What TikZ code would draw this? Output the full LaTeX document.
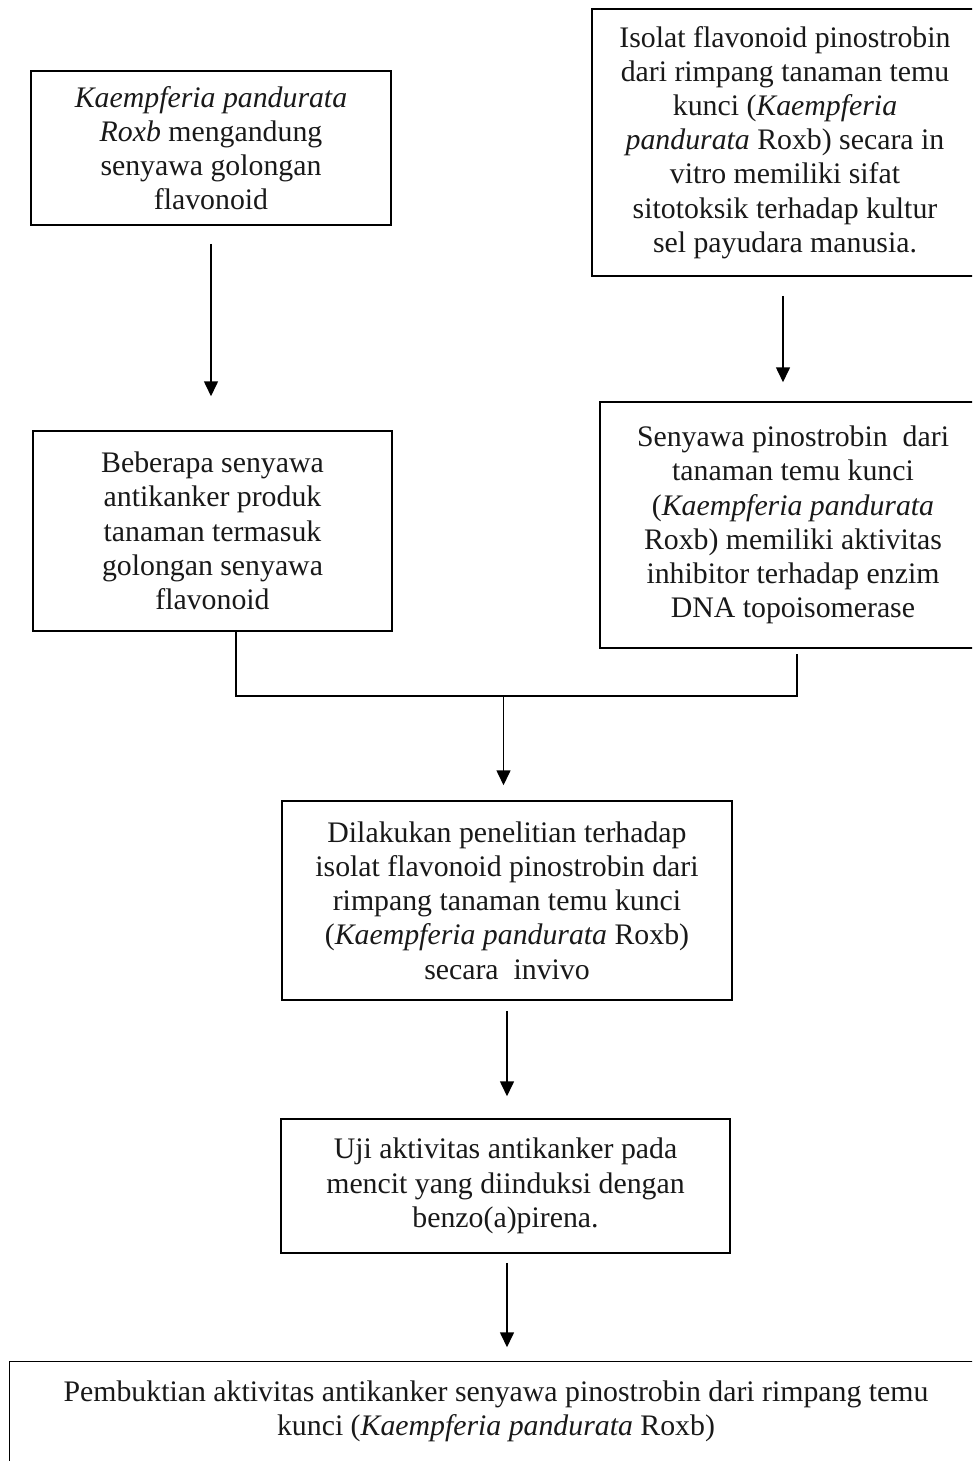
\documentclass[tikz,border=0pt]{standalone}
\usepackage{fontspec}
\setmainfont{Liberation Serif}
\usetikzlibrary{arrows.meta}
\begin{document}
\begin{tikzpicture}[x=1pt,y=-1pt,
  box/.style={draw=black, line width=1.5pt, rectangle, inner sep=0pt, align=center,
    text=black!90, font=\fontsize{29.8}{34.2}\selectfont},
  arr/.style={line width=1.6pt, -{Triangle[length=15pt,width=14pt]}},
  con/.style={line width=1.6pt}]
\useasboundingbox (0,0) rectangle (972,1461);
\clip (0,0) rectangle (972,1461);
\fill[white] (0,0) rectangle (972,1461);

\node[box, minimum width=360pt, minimum height=154pt] (A) at (211,148)
  {\textit{Kaempferia pandurata}\\ \textit{Roxb} mengandung\\ senyawa golongan\\ flavonoid};
\node[box, minimum width=386pt, minimum height=267pt] (B) at (785,142.5)
  {Isolat flavonoid pinostrobin\\ dari rimpang tanaman temu\\ kunci (\textit{Kaempferia}\\ \textit{pandurata} Roxb) secara in\\ vitro memiliki sifat\\ sitotoksik terhadap kultur\\ sel payudara manusia.};
\node[box, minimum width=359pt, minimum height=200pt] (C) at (212.5,531)
  {Beberapa senyawa\\ antikanker produk\\ tanaman termasuk\\ golongan senyawa\\ flavonoid};
\node[box, minimum width=386pt, minimum height=246pt] (D) at (793,525)
  {Senyawa pinostrobin\ \ dari\\ tanaman temu kunci\\ (\textit{Kaempferia pandurata}\\ Roxb) memiliki aktivitas\\ inhibitor terhadap enzim\\ DNA topoisomerase};
\node[box, minimum width=450pt, minimum height=199pt] (E) at (507,900.5)
  {Dilakukan penelitian terhadap\\ isolat flavonoid pinostrobin dari\\ rimpang tanaman temu kunci\\ (\textit{Kaempferia pandurata} Roxb)\\ secara\ \ invivo};
\node[box, minimum width=449pt, minimum height=134pt] (F) at (505.5,1186)
  {Uji aktivitas antikanker pada\\ mencit yang diinduksi dengan\\ benzo(a)pirena.};
\node[box, draw=none, minimum width=972pt, minimum height=98pt] (G) at (496,1411)
  {Pembuktian aktivitas antikanker senyawa pinostrobin dari rimpang temu\\ kunci (\textit{Kaempferia pandurata} Roxb)};
\draw[con, line width=1.5pt] ([yshift=-30pt]G.south west) -- (G.north west) -- ([xshift=30pt]G.north east);

\coordinate (jl) at (236,696);
\coordinate (jr) at (797,696);
\coordinate (jm) at (503.5,696);

\draw[arr, shorten <=18pt, shorten >=34pt] (A.south) -- (A.south |- C.north);
\draw[arr, shorten <=19pt, shorten >=19pt] ([xshift=-2pt]B.south) -- ([xshift=-2pt]B.south |- D.north);
\draw[con] (C.south -| jl) -- (jl) -- (jr) -- ([yshift=-5pt]D.south -| jr);
\draw[arr, shorten >=15pt] (jm) -- (jm |- E.north);
\draw[arr, shorten <=10pt, shorten >=22pt] (E.south) -- (E.south |- F.north);
\draw[arr, shorten <=9pt, shorten >=14pt] ([xshift=1.5pt]F.south) -- ([xshift=1.5pt]F.south |- G.north);
\end{tikzpicture}
\end{document}
